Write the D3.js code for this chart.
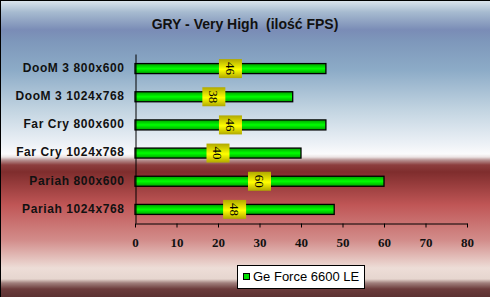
<!DOCTYPE html>
<html>
<head>
<meta charset="utf-8">
<script src="https://cdn.jsdelivr.net/npm/d3@7"></script>
<style>
  html, body { margin: 0; padding: 0; }
  svg { display: block; }
</style>
</head>
<body>
<svg width="490" height="297"></svg>
<script>
var categories = ["DooM 3 800x600", "DooM 3 1024x768", "Far Cry 800x600", "Far Cry 1024x768", "Pariah 800x600", "Pariah 1024x768"];
var fps = [46, 38, 46, 40, 60, 48];
var xTicks = [0, 10, 20, 30, 40, 50, 60, 70, 80];
var seriesName = "Ge Force 6600 LE";
var title = "GRY - Very High  (ilość FPS)";

var W = 490, H = 297;
var svg = d3.select("svg");
var defs = svg.append("defs");

// background gradient (blue sky on top, red lower part)
var bg = defs.append("linearGradient").attr("id", "bg")
    .attr("x1", 0).attr("y1", 0).attr("x2", 0).attr("y2", 1);
[[0, "#dfe8ef"], [12, "#a7bbd0"], [30, "#7a8cb6"], [42, "#7e98bb"], [70, "#8cabc7"],
 [110, "#c2d4e1"], [145, "#eef2f7"], [154, "#fbfbfc"], [157, "#ece4e4"], [160, "#b89494"],
 [165, "#8c3e3e"], [172, "#7f2d2d"], [205, "#c05656"], [240, "#d28c8a"], [268, "#edddd7"],
 [279, "#e6d6cf"], [283, "#a07f7c"], [289, "#6c3c3c"], [297, "#5c3232"]]
  .forEach(function(s) {
    bg.append("stop").attr("offset", (s[0] / H * 100) + "%").attr("stop-color", s[1]);
  });

var barGrad = defs.append("linearGradient").attr("id", "barg")
    .attr("x1", 0).attr("y1", 0).attr("x2", 0).attr("y2", 1);
barGrad.append("stop").attr("offset", "0%").attr("stop-color", "#00a000");
barGrad.append("stop").attr("offset", "50%").attr("stop-color", "#00ff00");
barGrad.append("stop").attr("offset", "100%").attr("stop-color", "#00a000");

var lblGrad = defs.append("linearGradient").attr("id", "lblg")
    .attr("x1", 0).attr("y1", 0).attr("x2", 0).attr("y2", 1);
lblGrad.append("stop").attr("offset", "0%").attr("stop-color", "#b0a800");
lblGrad.append("stop").attr("offset", "55%").attr("stop-color", "#ffff00");
lblGrad.append("stop").attr("offset", "100%").attr("stop-color", "#b0a800");

svg.append("rect").attr("width", W).attr("height", H).attr("fill", "url(#bg)");
svg.append("line").attr("x1", 0).attr("y1", 0.5).attr("x2", W).attr("y2", 0.5).attr("stroke", "#000");
svg.append("line").attr("x1", 0.5).attr("y1", 0).attr("x2", 0.5).attr("y2", H).attr("stroke", "#000");

svg.append("text")
    .attr("x", 245).attr("y", 29)
    .attr("text-anchor", "middle")
    .style("font", "bold 14px Arial, 'Liberation Sans', sans-serif")
    .style("white-space", "pre")
    .attr("fill", "#111")
    .text(title);

var x = d3.scaleLinear().domain([0, 80]).range([135, 467]);
var y = d3.scaleBand().domain(categories).range([54, 223]);
var barH = 10;

var g = svg.append("g");

// bars
g.selectAll("rect.bar").data(fps).enter().append("rect")
    .attr("class", "bar")
    .attr("x", x(0))
    .attr("y", function(d, i) { return y(categories[i]) + y.bandwidth() / 2 - barH / 2 + 0.5; })
    .attr("width", function(d) { return x(d) - x(0); })
    .attr("height", barH)
    .attr("fill", "url(#barg)")
    .attr("stroke", "#000")
    .attr("stroke-width", 1.3);

// value labels
var lbl = g.selectAll("g.lbl").data(fps).enter().append("g")
    .attr("class", "lbl")
    .attr("transform", function(d, i) {
      return "translate(" + x(d / 2) + "," + (y(categories[i]) + y.bandwidth() / 2 + 0.5) + ")";
    });
lbl.append("rect")
    .attr("x", -11.5).attr("y", -9.5).attr("width", 23).attr("height", 19)
    .attr("fill", "url(#lblg)");
lbl.append("text")
    .attr("transform", "rotate(90)")
    .attr("text-anchor", "middle")
    .attr("dy", "0.35em")
    .style("font", "13px 'Times New Roman', 'Liberation Serif', serif")
    .attr("fill", "#000")
    .text(function(d) { return d; });

// y axis
var yAxis = g.append("g").attr("transform", "translate(135.5,0)")
    .call(d3.axisLeft(y).tickSize(0).tickPadding(11));
yAxis.select(".domain").attr("stroke", "#000");
yAxis.selectAll("text")
    .style("font", "bold 12px Arial, 'Liberation Sans', sans-serif")
    .style("letter-spacing", "0.6px")
    .attr("fill", "#111");

// x axis
var xAxis = g.append("g").attr("transform", "translate(0,223.5)")
    .call(d3.axisBottom(x).tickValues(xTicks).tickSize(4).tickSizeOuter(0).tickPadding(10));
xAxis.select(".domain").attr("stroke", "#000");
xAxis.selectAll("line").attr("stroke", "#000");
xAxis.selectAll("text")
    .style("font", "bold 13px 'Times New Roman', 'Liberation Serif', serif")
    .attr("fill", "#111");

// legend
var leg = svg.append("g");
leg.append("rect").attr("x", 237.5).attr("y", 265.5).attr("width", 127).attr("height", 23)
    .attr("fill", "#fff").attr("stroke", "#000");
leg.append("rect").attr("x", 243.5).attr("y", 273.5).attr("width", 6).attr("height", 6)
    .attr("fill", "#00e000").attr("stroke", "#000");
leg.append("text").attr("x", 253).attr("y", 281)
    .style("font", "13px Arial, 'Liberation Sans', sans-serif")
    .attr("fill", "#000")
    .text(seriesName);
</script>
</body>
</html>
